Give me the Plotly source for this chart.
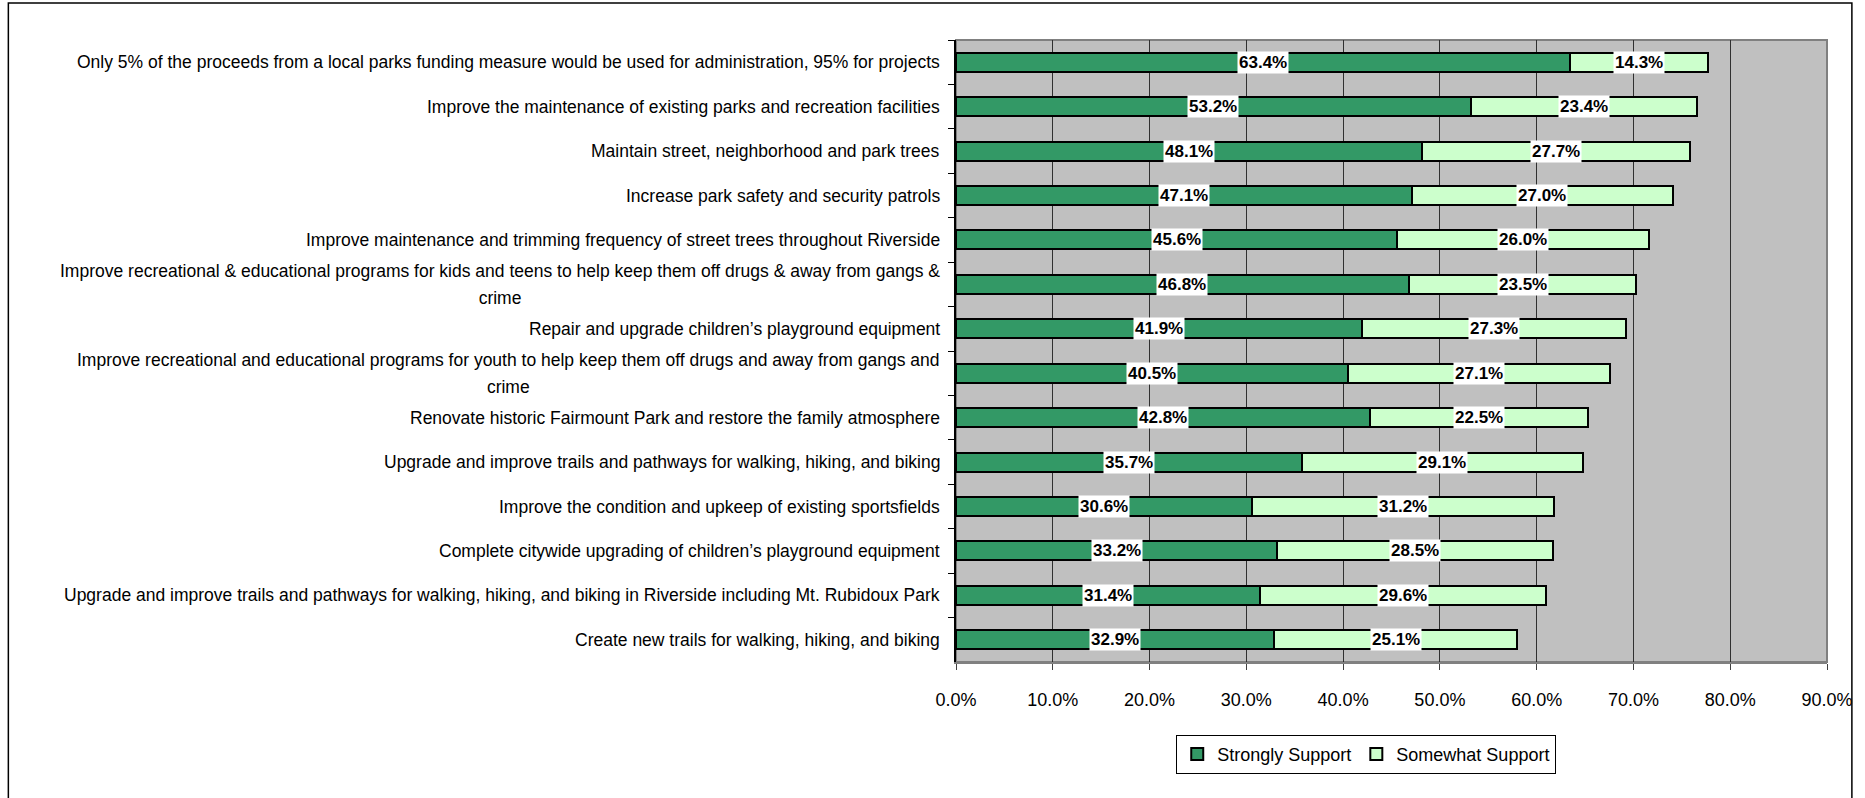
import plotly.graph_objects as go

categories = [
    "Only 5% of the proceeds from a local parks funding measure would be used for administration, 95% for projects",
    "Improve the maintenance of existing parks and recreation facilities",
    "Maintain street, neighborhood and park trees",
    "Increase park safety and security patrols",
    "Improve maintenance and trimming frequency of street trees throughout Riverside",
    "Improve recreational & educational programs for kids and teens to help keep them off drugs & away from gangs &<br>crime",
    "Repair and upgrade children’s playground equipment",
    "Improve recreational and educational programs for youth to help keep them off drugs and away from gangs and<br>crime",
    "Renovate historic Fairmount Park and restore the family atmosphere",
    "Upgrade and improve trails and pathways for walking, hiking, and biking",
    "Improve the condition and upkeep of existing sportsfields",
    "Complete citywide upgrading of children’s playground equipment",
    "Upgrade and improve trails and pathways for walking, hiking, and biking in Riverside including Mt. Rubidoux Park",
    "Create new trails for walking, hiking, and biking",
]
strongly = [63.4, 53.2, 48.1, 47.1, 45.6, 46.8, 41.9, 40.5, 42.8, 35.7, 30.6, 33.2, 31.4, 32.9]
somewhat = [14.3, 23.4, 27.7, 27.0, 26.0, 23.5, 27.3, 27.1, 22.5, 29.1, 31.2, 28.5, 29.6, 25.1]
x_ticks = [0, 10, 20, 30, 40, 50, 60, 70, 80, 90]

FONT = "Liberation Sans Narrow, Arial Narrow, Liberation Sans, Arial, sans-serif"
ids = [f"c{i}" for i in range(len(categories))]

fig = go.Figure()
fig.add_trace(go.Bar(
    y=ids, x=strongly, orientation="h", name="Strongly Support",
    marker=dict(color="#339966", line=dict(color="black", width=2)),
))
fig.add_trace(go.Bar(
    y=ids, x=somewhat, orientation="h", name="Somewhat Support",
    marker=dict(color="#CCFFCC", line=dict(color="black", width=2)),
))

annotations = []
for cid, lab, s, w in zip(ids, categories, strongly, somewhat):
    styled = "<br>".join(f'<span style="font-size:17.5px">{ln}</span>' for ln in lab.split("<br>"))
    annotations.append(dict(
        x=0, xref="paper", y=cid, yref="y", text=styled, showarrow=False,
        xanchor="right", yanchor="middle", align="center", xshift=-14,
        font=dict(family=FONT, size=21, color="black"),
    ))
    annotations.append(dict(
        x=s / 2, xref="x", y=cid, yref="y", text=f"{s:.1f}%", showarrow=False,
        xanchor="center", yanchor="middle", bgcolor="white", borderpad=1,
        font=dict(family=FONT, size=17, color="black", weight="bold"),
    ))
    annotations.append(dict(
        x=s + w / 2, xref="x", y=cid, yref="y", text=f"{w:.1f}%", showarrow=False,
        xanchor="center", yanchor="middle", bgcolor="white", borderpad=1,
        font=dict(family=FONT, size=17, color="black", weight="bold"),
    ))

fig.update_layout(
    width=1865, height=798,
    barmode="stack", bargap=0.57,
    margin=dict(l=956, r=34, t=40, b=136),
    paper_bgcolor="white", plot_bgcolor="#C0C0C0",
    font=dict(family=FONT, size=18, color="black"),
    showlegend=True,
    legend=dict(
        orientation="h", x=0.471, xanchor="center", y=-0.117, yanchor="top",
        bgcolor="white", bordercolor="black", borderwidth=1,
        font=dict(family=FONT, size=18, color="black"), traceorder="normal",
        itemwidth=30,
    ),
    annotations=annotations,
    shapes=[
        dict(type="rect", xref="paper", yref="paper", x0=0, x1=1, y0=0, y1=1,
             line=dict(color="#808080", width=2), layer="below"),
        dict(type="rect", xref="paper", yref="paper",
             x0=(4 - 956) / 875, x1=(1856 - 956) / 875,
             y0=-0.3, y1=(662 - 3) / 622,
             line=dict(color="black", width=1.5)),
    ],
)
fig.update_xaxes(
    range=[0, 90], tickvals=x_ticks, ticktext=[f"{v:.1f}%" for v in x_ticks],
    showgrid=True, gridcolor="#303030", gridwidth=1,
    ticks="outside", ticklen=6, tickcolor="#404040",
    showline=True, linecolor="#808080", linewidth=2,
    tickfont=dict(family=FONT, size=18, color="black"),
    ticklabelstandoff=14, zeroline=False, fixedrange=True,
)
fig.update_yaxes(
    categoryorder="array", categoryarray=ids, autorange="reversed",
    showticklabels=False, tickson="boundaries", ticks="outside", ticklen=6,
    tickcolor="black", showline=True, linecolor="black", linewidth=2,
    showgrid=False, zeroline=False, fixedrange=True,
)

fig.write_html("out.html")
